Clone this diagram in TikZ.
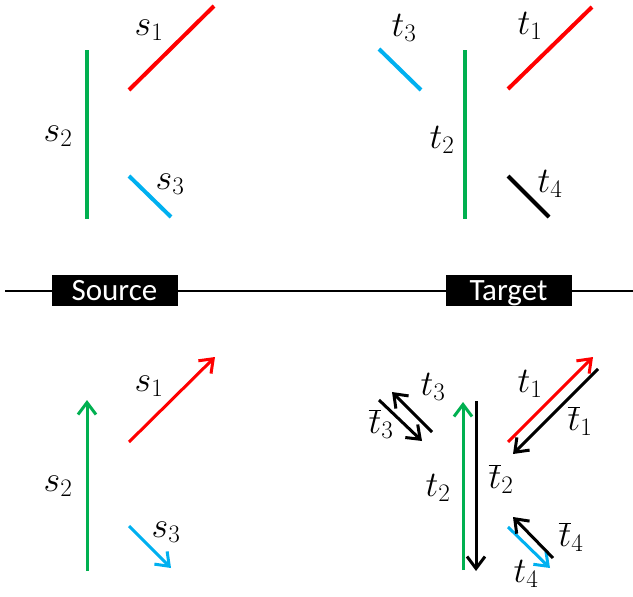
\documentclass[tikz,border=0pt]{standalone}
\usepackage{fix-cm}
\usepackage{fontspec}
\newfontfamily\boxfont{Carlito}
\usetikzlibrary{arrows.meta}
\definecolor{myred}{RGB}{255,0,0}
\definecolor{mygreen}{RGB}{0,176,80}
\definecolor{myblue}{RGB}{0,176,240}
\tikzset{
  seg/.style={line width=4pt},
  arr/.style={line width=3pt,-{Straight Barb[length=12pt,width=18pt,line width=3pt]}},
  lab/.style={inner sep=0pt,font=\fontsize{36}{40}\selectfont},
  tag/.style={fill=black,text=white,inner sep=0pt,minimum width=126pt,minimum height=31pt,
    text height=22pt,text depth=3pt,font=\boxfont\fontsize{31}{34}\selectfont}
}
\begin{document}
\begin{tikzpicture}[x=1pt,y=-1pt]
\useasboundingbox (0,0) rectangle (633,597);
% ---------- top: source ----------
\coordinate (s2a) at (87,50);  \coordinate (s2b) at (87,219);
\coordinate (s1a) at (129,90); \coordinate (s1b) at (214,6);
\coordinate (s3a) at (129,176);\coordinate (s3b) at (171,217);
\draw[seg,mygreen] (s2a) -- (s2b);
\draw[seg,myred] (s1a) -- (s1b);
\draw[seg,myblue] (s3a) -- (s3b);
\node[lab] (ls1) at (149,30) {$s_1$};
\node[lab] (ls2) at (58,136) {$s_2$};
\node[lab] (ls3) at (170,184) {$s_3$};
% ---------- top: target ----------
\coordinate (t3a) at (379,49);  \coordinate (t3b) at (421,90);
\coordinate (t2a) at (465,50);  \coordinate (t2b) at (465,219);
\coordinate (t1a) at (508,89);  \coordinate (t1b) at (592,7);
\coordinate (t4a) at (508,176); \coordinate (t4b) at (549,217);
\draw[seg,myblue] (t3a) -- (t3b);
\draw[seg,mygreen] (t2a) -- (t2b);
\draw[seg,myred] (t1a) -- (t1b);
\draw[seg,black] (t4a) -- (t4b);
\node[lab] (lt3) at (404,28) {$t_3$};
\node[lab] (lt1) at (530,26) {$t_1$};
\node[lab] (lt2) at (442,140) {$t_2$};
\node[lab] (lt4) at (550,184) {$t_4$};
% ---------- separator ----------
\coordinate (sepL) at (5,291); \coordinate (sepR) at (633,291);
\draw[line width=1.5pt] (sepL) -- (sepR);
\node[tag] (src) at (114.5,290.5) {Source};
\node[tag] (tgt) at (508.5,290.5) {Target};
% ---------- bottom: source ----------
\coordinate (bs2a) at (87,571);  \coordinate (bs2b) at (87,400);
\coordinate (bs1a) at (129,442); \coordinate (bs1b) at (215,357);
\coordinate (bs3a) at (129,526); \coordinate (bs3b) at (171,568);
\draw[arr,mygreen] (bs2a) -- (bs2b);
\draw[arr,myred] (bs1a) -- (bs1b);
\draw[arr,myblue] (bs3a) -- (bs3b);
\node[lab] (bls1) at (149,386) {$s_1$};
\node[lab] (bls2) at (58,486) {$s_2$};
\node[lab] (bls3) at (166,532) {$s_3$};
% ---------- bottom: target ----------
\coordinate (bt3a) at (432,432); \coordinate (bt3b) at (392,392);
\coordinate (bt3c) at (379,400); \coordinate (bt3d) at (422,441);
\coordinate (bt2a) at (463,570); \coordinate (bt2b) at (463,402);
\coordinate (bt2c) at (476,401); \coordinate (bt2d) at (476,571);
\coordinate (bt1a) at (508,442); \coordinate (bt1b) at (593,357);
\coordinate (bt1c) at (598,369); \coordinate (bt1d) at (513,454);
\coordinate (bt4a) at (508,527); \coordinate (bt4b) at (550,568);
\coordinate (bt4c) at (553,558); \coordinate (bt4d) at (513,517);
\draw[arr,black] (bt3a) -- (bt3b);
\draw[arr,black] (bt3c) -- (bt3d);
\draw[arr,mygreen] (bt2a) -- (bt2b);
\draw[arr,black] (bt2c) -- (bt2d);
\draw[arr,myred] (bt1a) -- (bt1b);
\draw[arr,black] (bt1c) -- (bt1d);
\draw[arr,myblue] (bt4a) -- (bt4b);
\draw[arr,black] (bt4c) -- (bt4d);
\node[lab] (blt3) at (433,387) {$t_3$};
\node[lab] (blt3b) at (381,424) {$\overline{t}_3$};
\node[lab] (blt1) at (530,384) {$t_1$};
\node[lab] (blt1b) at (580,421) {$\overline{t}_1$};
\node[lab] (blt2) at (438,488) {$t_2$};
\node[lab] (blt2b) at (501,479) {$\overline{t}_2$};
\node[lab] (blt4b) at (571,537) {$\overline{t}_4$};
\node[lab] (blt4) at (526,574) {$t_4$};
\end{tikzpicture}
\end{document}
